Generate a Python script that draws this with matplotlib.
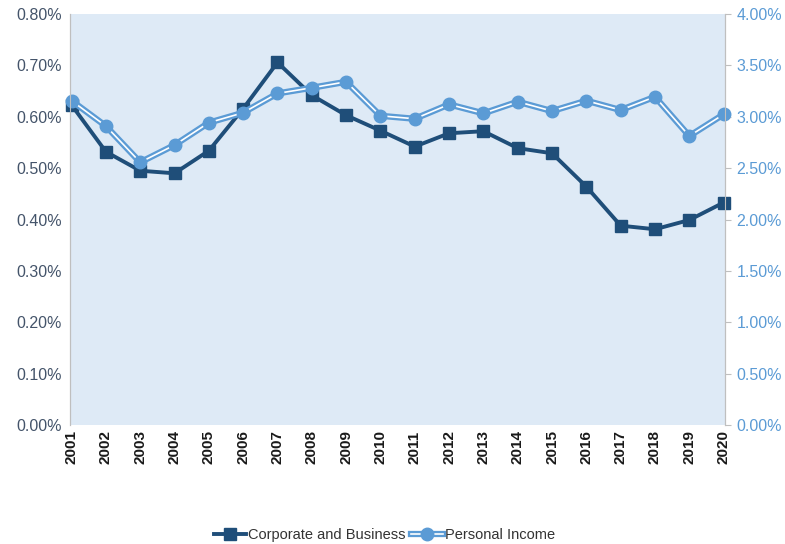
import matplotlib.pyplot as plt
import numpy as np
from matplotlib.ticker import FuncFormatter
from matplotlib.legend_handler import HandlerTuple

plt.rcParams['font.family'] = ['Liberation Sans', 'DejaVu Sans']

years = list(range(2001, 2021))
# Corporate and Business, % (left axis)
corporate = [0.623, 0.532, 0.495, 0.490, 0.534, 0.616, 0.706, 0.642, 0.603, 0.573,
             0.542, 0.568, 0.572, 0.539, 0.529, 0.464, 0.388, 0.381, 0.399, 0.433]
# Personal Income, % (right axis)
personal = [3.157, 2.910, 2.557, 2.725, 2.943, 3.040, 3.228, 3.283, 3.341, 3.010,
            2.981, 3.121, 3.034, 3.147, 3.056, 3.157, 3.066, 3.195, 2.813, 3.024]

dark = '#1F4E79'
light = '#5B9BD5'

fig = plt.figure(figsize=(7.85, 5.44), dpi=100)
ax = fig.add_axes([0.089, 0.219, 0.835, 0.755])
ax.set_facecolor('#DEEAF6')
ax2 = ax.twinx()

x = np.arange(len(years))
l1, = ax.plot(x, corporate, color=dark, lw=2.8, marker='s', ms=8,
              markerfacecolor=dark, markeredgecolor=dark, zorder=3, clip_on=False)
# personal income: double line (blue outer, white core)
p_outer, = ax2.plot(x, personal, color=light, lw=4.5, zorder=2, clip_on=False)
p_inner, = ax2.plot(x, personal, color='white', lw=1.2, zorder=2.1,
                    marker='o', ms=9, markerfacecolor=light, markeredgecolor=light,
                    clip_on=False)

ax.set_xlim(-0.05, len(years) - 0.95)
ax.set_ylim(0, 0.8)
ax2.set_ylim(0, 4.0)
ax.set_yticks(np.arange(0, 0.81, 0.1))
ax2.set_yticks(np.arange(0, 4.01, 0.5))
ax.yaxis.set_major_formatter(FuncFormatter(lambda v, p: f'{v:.2f}%'))
ax2.yaxis.set_major_formatter(FuncFormatter(lambda v, p: f'{v:.2f}%'))
ax.set_xticks(x)
ax.set_xticklabels([str(y) for y in years], rotation=90, fontsize=11,
                   fontweight='bold', color='#1a1a1a')

ax.tick_params(axis='y', length=0, labelsize=11.5, labelcolor='#44546A', pad=6)
ax2.tick_params(axis='y', length=4, color='#BFBFBF', labelsize=11.5, labelcolor=light, pad=4)
ax.tick_params(axis='x', length=0, pad=4)

for a in (ax, ax2):
    a.spines['top'].set_visible(False)
    a.spines['bottom'].set_visible(False)
    a.spines['left'].set_color('#BFBFBF')
    a.spines['right'].set_color('#BFBFBF')

fig.legend([l1, (p_outer, p_inner)], ['Corporate and Business', 'Personal Income'],
           handler_map={tuple: HandlerTuple(ndivide=1)},
           loc='center', bbox_to_anchor=(0.49, 0.017), ncol=2, frameon=False,
           fontsize=10.5, handlelength=2.2, columnspacing=0.4, handletextpad=0.1,
           labelcolor='#333333')

fig.savefig('out.png', dpi=100)
